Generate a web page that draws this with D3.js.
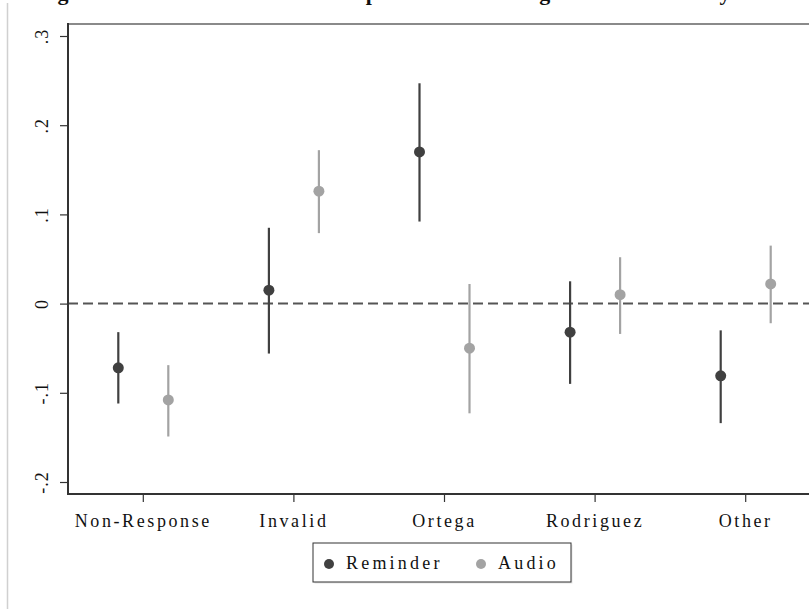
<!DOCTYPE html>
<html lang="en">
  <head>
    <meta charset="UTF-8" />
    <title>Treatment effects by response category</title>
    <style>
      html, body { margin: 0; padding: 0; background: #fff; overflow: hidden; }
      svg { display: block; }
      text { font-family: "Liberation Serif", "DejaVu Serif", serif; fill: #111; }
    </style>
  </head>

  <body>
    <div class="chart"></div>

    <script src="https://cdn.jsdelivr.net/npm/d3@7"></script>
    <script>
    // data
    var categories = ["Non-Response", "Invalid", "Ortega", "Rodriguez", "Other"];
    var seriesNames = ["Reminder", "Audio"];
    var reminderEst = [-0.072, 0.015, 0.170, -0.032, -0.081];
    var reminderLo  = [-0.112, -0.056, 0.092, -0.090, -0.134];
    var reminderHi  = [-0.032, 0.085, 0.247, 0.025, -0.030];
    var audioEst = [-0.108, 0.126, -0.050, 0.010, 0.022];
    var audioLo  = [-0.149, 0.079, -0.123, -0.034, -0.022];
    var audioHi  = [-0.069, 0.172, 0.022, 0.052, 0.065];
    var yTicks = [-0.2, -0.1, 0, 0.1, 0.2, 0.3];
    var yTickLabels = ["-.2", "-.1", "0", ".1", ".2", ".3"];

    var w = 809, h = 609;
    var plot = { left: 68, top: 24, bottom: 494, right: 821 };
    var colors = { Reminder: "#404040", Audio: "#a3a3a3" };

    var svg = d3.select(".chart").append("svg")
      .attr("width", w)
      .attr("height", h);

    // page edge line on the left
    svg.append("line")
      .attr("x1", 7.5).attr("x2", 7.5)
      .attr("y1", 3).attr("y2", h)
      .attr("stroke", "#d0d0d0")
      .attr("stroke-width", 1.5);

    // title, cut off by the top of the page as in the source
    svg.append("text")
      .attr("x", 38)
      .attr("y", 0)
      .style("font-size", "22px")
      .style("font-weight", "bold")
      .text("Figure 3: Treatment Effects on Response Rates Among Treatment Arm by Vote");

    var x = d3.scaleBand()
      .domain(categories)
      .range([plot.left, plot.right]);

    var offset = d3.scalePoint()
      .domain(seriesNames)
      .range([-25, 25]);

    var y = d3.scaleLinear()
      .domain([-0.2, 0.3])
      .range([482, 36]);

    var rows = [];
    categories.forEach(function(c, i) {
      rows.push({ cat: c, series: "Reminder", est: reminderEst[i], lo: reminderLo[i], hi: reminderHi[i] });
      rows.push({ cat: c, series: "Audio", est: audioEst[i], lo: audioLo[i], hi: audioHi[i] });
    });

    function cx(d) {
      return x(d.cat) + x.bandwidth() / 2 + offset(d.series);
    }

    // top border of the plot box (runs off the right edge)
    svg.append("line")
      .attr("x1", plot.left).attr("x2", w)
      .attr("y1", plot.top).attr("y2", plot.top)
      .attr("stroke", "#8a8a8a")
      .attr("stroke-width", 2);

    // zero reference line
    svg.append("line")
      .attr("x1", plot.left).attr("x2", w)
      .attr("y1", y(0)).attr("y2", y(0))
      .attr("stroke", "#555")
      .attr("stroke-width", 2)
      .attr("stroke-dasharray", "10,5");

    // left axis
    var yAxis = d3.axisLeft(y)
      .tickValues(yTicks)
      .tickSize(8)
      .tickPadding(0)
      .tickFormat(function(d, i) { return yTickLabels[i]; });

    var gy = svg.append("g")
      .attr("transform", "translate(" + plot.left + ",0)")
      .call(yAxis);
    gy.select(".domain").remove();
    gy.selectAll(".tick line").attr("stroke", "#333").attr("stroke-width", 1.2);
    gy.selectAll(".tick text")
      .attr("x", null).attr("dy", null)
      .attr("transform", "translate(-20,0) rotate(-90)")
      .attr("text-anchor", "middle")
      .style("font-size", "18px")
      .style("letter-spacing", "1px")
      .style("fill", "#111");

    svg.append("line")
      .attr("x1", plot.left).attr("x2", plot.left)
      .attr("y1", plot.top - 1).attr("y2", plot.bottom + 1)
      .attr("stroke", "#333")
      .attr("stroke-width", 2);

    // bottom axis
    var xAxis = d3.axisBottom(x)
      .tickSize(8)
      .tickPadding(12);

    var gx = svg.append("g")
      .attr("transform", "translate(0," + plot.bottom + ")")
      .call(xAxis);
    gx.select(".domain").remove();
    gx.selectAll(".tick line").attr("stroke", "#333").attr("stroke-width", 1.2);
    gx.selectAll(".tick text")
      .style("font-size", "18px")
      .style("letter-spacing", "2.6px")
      .style("fill", "#111");

    svg.append("line")
      .attr("x1", plot.left - 1).attr("x2", w)
      .attr("y1", plot.bottom).attr("y2", plot.bottom)
      .attr("stroke", "#333")
      .attr("stroke-width", 2);

    // confidence intervals
    svg.selectAll("line.ci")
      .data(rows)
      .enter()
      .append("line")
      .attr("class", "ci")
      .attr("x1", cx).attr("x2", cx)
      .attr("y1", function(d) { return y(d.lo); })
      .attr("y2", function(d) { return y(d.hi); })
      .attr("stroke", function(d) { return colors[d.series]; })
      .attr("stroke-width", 2.2);

    // point estimates
    svg.selectAll("circle.est")
      .data(rows)
      .enter()
      .append("circle")
      .attr("class", "est")
      .attr("cx", cx)
      .attr("cy", function(d) { return y(d.est); })
      .attr("r", 5.5)
      .attr("fill", function(d) { return colors[d.series]; });

    // legend
    var lg = svg.append("g").attr("transform", "translate(313,543)");
    lg.append("rect")
      .attr("x", 1.5).attr("y", 1.5)
      .attr("width", 258).attr("height", 39)
      .attr("fill", "#e6e6e6");
    lg.append("rect")
      .attr("width", 258).attr("height", 39)
      .attr("fill", "#fff")
      .attr("stroke", "#333")
      .attr("stroke-width", 1);

    var items = lg.selectAll("g.item")
      .data(seriesNames)
      .enter()
      .append("g")
      .attr("class", "item")
      .attr("transform", function(d, i) { return "translate(" + (i === 0 ? 16 : 168) + ",20)"; });
    items.append("circle")
      .attr("r", 5)
      .attr("cy", 1)
      .attr("fill", function(d) { return colors[d]; });
    items.append("text")
      .attr("x", 17)
      .attr("dy", "0.35em")
      .style("font-size", "18px")
      .style("letter-spacing", "3.2px")
      .text(function(d) { return d; });
    </script>
  </body>
</html>
